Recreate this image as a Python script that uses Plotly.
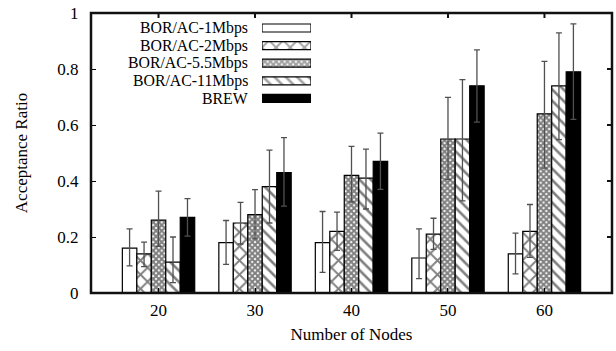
import plotly.graph_objects as go

nodes = [20, 30, 40, 50, 60]
series_names = ["BOR/AC-1Mbps", "BOR/AC-2Mbps", "BOR/AC-5.5Mbps", "BOR/AC-11Mbps", "BREW"]

bor_1 = [0.16, 0.18, 0.18, 0.125, 0.14]
bor_1_hi = [0.069, 0.079, 0.111, 0.104, 0.074]
bor_1_lo = [0.063, 0.078, 0.106, 0.074, 0.072]

bor_2 = [0.14, 0.25, 0.22, 0.21, 0.22]
bor_2_hi = [0.042, 0.074, 0.069, 0.057, 0.096]
bor_2_lo = [0.046, 0.075, 0.068, 0.054, 0.093]

bor_55 = [0.26, 0.28, 0.42, 0.55, 0.64]
bor_55_hi = [0.104, 0.089, 0.104, 0.149, 0.187]
bor_55_lo = [0.093, 0.087, 0.095, 0.145, 0.194]

bor_11 = [0.11, 0.38, 0.41, 0.55, 0.74]
bor_11_hi = [0.09, 0.13, 0.104, 0.212, 0.189]
bor_11_lo = [0.073, 0.13, 0.11, 0.221, 0.192]

brew = [0.27, 0.43, 0.47, 0.74, 0.79]
brew_hi = [0.067, 0.125, 0.101, 0.128, 0.171]
brew_lo = [0.067, 0.12, 0.10, 0.13, 0.17]

y_ticks = [0, 0.2, 0.4, 0.6, 0.8, 1]
y_tick_labels = ["0", "0.2", "0.4", "0.6", "0.8", "1"]

values = [bor_1, bor_2, bor_55, bor_11, brew]
err_hi = [bor_1_hi, bor_2_hi, bor_55_hi, bor_11_hi, brew_hi]
err_lo = [bor_1_lo, bor_2_lo, bor_55_lo, bor_11_lo, brew_lo]

FONT = "Liberation Serif"
FS = 17
FS_LEG = 15.8
W, H = 616, 351
# target plot area in screen pixels
PX0, PX1, PY0, PY1 = 91, 612, 13, 293
ML, MT, MR, MB = PX0, PY0, W - PX1, H - PY1
PW, PH = PX1 - PX0, PY1 - PY0
X_RANGE = [13, 67]
TICKLEN = 5

fill_colors = ["white", "white", "white", "white", "black"]
pat_shapes = ["", "x", "x", "\\", ""]
pat_sizes = [8, 10, 4, 8, 8]
pat_solid = [0.2, 0.34, 0.75, 0.32, 0.2]

ERR_COLOR = "#505050"


def pattern(i):
    if not pat_shapes[i]:
        return dict(shape="")
    return dict(shape=pat_shapes[i], size=pat_sizes[i], solidity=pat_solid[i],
                fgcolor="black", bgcolor="white", fillmode="overlay")


fig = go.Figure()
for i, (name, v, hi, lo) in enumerate(zip(series_names, values, err_hi, err_lo)):
    fig.add_trace(go.Bar(
        x=nodes, y=v, name=name, showlegend=False,
        marker=dict(color=fill_colors[i], pattern=pattern(i),
                    line=dict(color="black", width=1.2)),
        error_y=dict(type="data", symmetric=False, array=hi, arrayminus=lo,
                     color=ERR_COLOR, thickness=1.3, width=3),
    ))

# custom legend (text right-aligned, sample box to the right), gnuplot style
leg_text_right = 250
leg_box_left, leg_box_right = 262, 311
leg_box_h = 8
leg_row0 = 28
leg_step = 17.6
n = len(series_names)
leg_top = leg_row0 - leg_step / 2
leg_bot = leg_row0 + (n - 0.5) * leg_step

for i, name in enumerate(series_names):
    yc = leg_row0 + i * leg_step
    fig.add_annotation(
        x=(leg_text_right - PX0) / PW, y=(PY1 - yc) / PH,
        xref="paper", yref="paper", xanchor="right", yanchor="middle",
        text=name, showarrow=False, font=dict(family=FONT, size=FS_LEG, color="black"),
    )

fig.add_trace(go.Bar(
    y=list(range(n)), x=[1] * n, orientation="h", width=leg_box_h / leg_step,
    xaxis="x2", yaxis="y2", showlegend=False, hoverinfo="skip",
    marker=dict(color=fill_colors,
                pattern=dict(shape=pat_shapes, size=pat_sizes, solidity=pat_solid,
                             fgcolor="black", bgcolor="white", fillmode="overlay"),
                line=dict(color="black", width=1.2)),
))

common = dict(ticks="inside", ticklen=TICKLEN, tickcolor="black", showline=True, linecolor="black",
              linewidth=1, showgrid=False, zeroline=False, automargin=False)

# frame and mirrored inside ticks on the top and right sides
frame_line = dict(color="#111111", width=2.5)
tick_line = dict(color="#111111", width=2)
shapes = [dict(type="rect", xref="paper", yref="paper", x0=0, x1=1, y0=0, y1=1,
               line=frame_line, fillcolor="rgba(0,0,0,0)", layer="above")]
for xv in nodes:
    shapes.append(dict(type="line", xref="x", yref="paper", x0=xv, x1=xv,
                       y0=1, y1=1 - TICKLEN / PH, line=tick_line, layer="above"))
for yv in y_ticks:
    shapes.append(dict(type="line", xref="paper", yref="y", x0=1, x1=1 - TICKLEN / PW,
                       y0=yv, y1=yv, line=tick_line, layer="above"))

fig.update_layout(
    width=W, height=H,
    margin=dict(l=ML, r=MR, t=MT, b=MB),
    paper_bgcolor="white", plot_bgcolor="white",
    barmode="group", bargap=0.25, bargroupgap=0,
    font=dict(family=FONT, size=FS, color="black"),
    xaxis=dict(
        range=X_RANGE, tickvals=nodes, ticktext=[str(v) for v in nodes],
        ticklabelstandoff=2, **common,
        title=dict(text="Number of Nodes", standoff=8, font=dict(family=FONT, size=FS)),
    ),
    yaxis=dict(
        range=[0, 1], tickvals=y_ticks, ticktext=y_tick_labels,
        ticklabelstandoff=8, **common,
        title=dict(text="Acceptance Ratio", standoff=25, font=dict(family=FONT, size=FS)),
    ),
    xaxis2=dict(domain=[(leg_box_left - PX0) / PW, (leg_box_right - PX0) / PW],
                anchor="y2", range=[0, 1], visible=False, fixedrange=True),
    yaxis2=dict(domain=[(PY1 - leg_bot) / PH, (PY1 - leg_top) / PH],
                anchor="x2", range=[n - 0.5, -0.5], visible=False, fixedrange=True),
    shapes=shapes,
)

fig.write_html("out.html", config={"displayModeBar": False},
               post_script="document.body.style.margin='0';")
